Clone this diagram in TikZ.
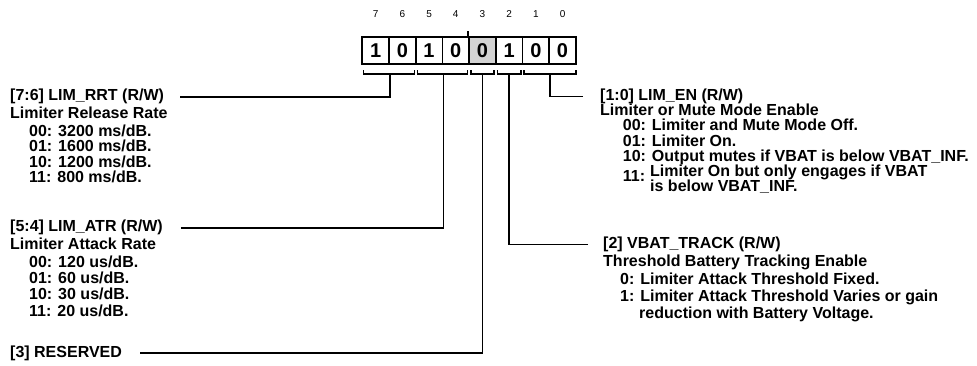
\documentclass[tikz,border=0pt]{standalone}
\usepackage{fontspec}
\setmainfont{Liberation Sans}
\definecolor{regfill}{RGB}{211,211,211}
\begin{document}
\begin{tikzpicture}[x=1pt,y=-1pt,
	txt/.style={anchor=base west,inner sep=0pt,font=\fontsize{16}{18}\selectfont\bfseries},
	bitcell/.style={draw,line width=1.8pt,minimum width=26.7pt,minimum height=27.6pt,inner sep=0pt,font=\fontsize{20}{20}\selectfont\bfseries},
	bitnum/.style={inner sep=0pt,font=\fontsize{10}{10}\selectfont},
	wire/.style={line width=1.6pt}]
	\useasboundingbox (0,0) rectangle (977,366);
	\foreach \b/\v/\c in {7/1/white,6/0/white,5/1/white,4/0/white,3/0/regfill,2/1/white,1/0/white,0/0/white}{
		\node[bitcell,fill=\c] (c\b) at ({375.65+26.7*(7-\b)},50.5) {\v};
		\node[bitnum] (n\b) at ({375.65+26.7*(7-\b)},14) {\b};
	}
	\draw[wire] (c3.north west) -- ++(0,-5);
	\draw[wire] ([xshift=2pt,yshift=-5pt]c7.south west) -- ++(0,4) -| ([xshift=-2pt,yshift=-5pt]c6.south east);
	\draw[wire] ([xshift=2.5pt,yshift=-5pt]c5.south west) -- ++(0,4) -| ([xshift=-2.5pt,yshift=-5pt]c4.south east);
	\draw[wire] ([xshift=2.5pt,yshift=-5pt]c3.south west) -- ++(0,4) -| ([xshift=-2.5pt,yshift=-5pt]c3.south east);
	\draw[wire] ([xshift=2.5pt,yshift=-5pt]c2.south west) -- ++(0,4) -| ([xshift=-2.5pt,yshift=-5pt]c2.south east);
	\draw[wire] ([xshift=2.5pt,yshift=-5pt]c1.south west) -- ++(0,4) -| ([xshift=-1pt,yshift=-5pt]c0.south east);
	\coordinate (k76) at ([yshift=-9pt]c7.south east);
	\coordinate (k54) at ([yshift=-9pt]c5.south east);
	\coordinate (k3) at ([yshift=-9pt]c3.south);
	\coordinate (k2) at ([yshift=-9pt]c2.south);
	\coordinate (k10) at ([yshift=-9pt]c1.south east);

	\node[txt] (rrt) at (10,101) {[7:6] LIM\_RRT (R/W)};
	\node[txt] (rrtn) at (10,119) {Limiter Release Rate};
	\foreach \t [count=\i] in {{00: 3200 ms/dB.},{01: 1600 ms/dB.},{10: 1200 ms/dB.},{11: 800 ms/dB.}}
		\node[txt] (rrt\i) at (29,{120.5+15.6*\i}) {\t};

	\node[txt] (atr) at (10,232) {[5:4] LIM\_ATR (R/W)};
	\node[txt] (atrn) at (10,249) {Limiter Attack Rate};
	\foreach \t [count=\i] in {{00: 120 us/dB.},{01: 60 us/dB.},{10: 30 us/dB.},{11: 20 us/dB.}}
		\node[txt] (atr\i) at (29,{250.6+16.4*\i}) {\t};

	\node[txt] (rsv) at (10,357) {[3] RESERVED};

	\node[txt] (en) at (600,100.5) {[1:0] LIM\_EN (R/W)};
	\node[txt] (enn) at (600,115.5) {Limiter or Mute Mode Enable};
	\foreach \t [count=\i] in {{00: Limiter and Mute Mode Off.},{01: Limiter On.},{10: Output mutes if VBAT is below VBAT\_INF.}}
		\node[txt] (en\i) at (622.7,{114.9+15.6*\i}) {\t};
	\node[txt] (en4) at (622.7,181.5) {11:};
	\node[txt] (en4a) at (650,177) {Limiter On but only engages if VBAT};
	\node[txt] (en4b) at (650,192) {is below VBAT\_INF.};

	\node[txt] (trk) at (603,248.5) {[2] VBAT\_TRACK (R/W)};
	\node[txt] (trkn) at (603,266.5) {Threshold Battery Tracking Enable};
	\node[txt] (trk1) at (620,284.5) {0: Limiter Attack Threshold Fixed.};
	\node[txt] (trk2) at (620,301.5) {1: Limiter Attack Threshold Varies or gain};
	\node[txt] (trk2a) at (639,318) {reduction with Battery Voltage.};

	\draw[wire] ([xshift=16pt]rrt.east) -| (k76);
	\draw[wire] ([xshift=18pt]atr.east) -| (k54);
	\draw[wire] ([xshift=18pt]rsv.east) -| (k3);
	\draw[wire] ([xshift=-15pt]trk.west) -| (k2);
	\draw[wire] ([xshift=-17pt]en.west) -| (k10);
\end{tikzpicture}
\end{document}
